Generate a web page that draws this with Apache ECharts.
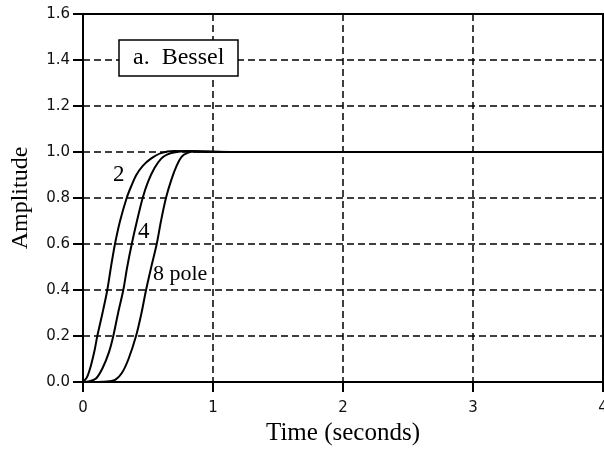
<!DOCTYPE html>
<html><head><meta charset="utf-8">
<script src="https://cdn.jsdelivr.net/npm/echarts@6/dist/echarts.min.js"></script>
<style>html,body{margin:0;padding:0;background:#fff}#c{width:604px;height:449px}</style>
</head><body><div id="c"></div>
<script>
// [time (s), amplitude]
var pole2 = [[0,0],[0.03,0.02],[0.06,0.07],[0.09,0.14],[0.11,0.2],[0.15,0.3],[0.187,0.4],[0.215,0.5],[0.246,0.6],[0.285,0.7],[0.336,0.8],[0.37,0.85],[0.41,0.9],[0.46,0.94],[0.52,0.97],[0.6,0.995],[0.7,1.004],[0.8,1.003],[1.0,1.0],[4,1]];
var pole4 = [[0,0],[0.05,0.003],[0.1,0.015],[0.15,0.06],[0.2,0.13],[0.233,0.2],[0.27,0.3],[0.31,0.4],[0.34,0.5],[0.375,0.6],[0.415,0.7],[0.459,0.8],[0.5,0.87],[0.55,0.93],[0.6,0.97],[0.65,0.99],[0.72,1.0],[0.8,1.004],[0.9,1.002],[1.2,1],[4,1]];
var pole8 = [[0,0],[0.1,0],[0.15,0.001],[0.2,0.003],[0.25,0.01],[0.3,0.04],[0.35,0.1],[0.408,0.2],[0.45,0.3],[0.485,0.4],[0.525,0.5],[0.567,0.6],[0.6,0.7],[0.638,0.8],[0.68,0.88],[0.72,0.94],[0.76,0.98],[0.8,0.995],[0.85,1.003],[0.95,1.002],[1.2,1],[4,1]];
var xTicks = [0,1,2,3,4];
var yTicks = ['0.0','0.2','0.4','0.6','0.8','1.0','1.2','1.4','1.6'];

var serif = 'Liberation Serif';
var sans = 'DejaVu Sans';
var chart = echarts.init(document.getElementById('c'));
function ser(d){return {type:'line',data:d,showSymbol:false,smooth:0.3,lineStyle:{color:'#000',width:2},z:5};}
chart.setOption({
  animation:false,
  title:{text:'a.  Bessel',left:119,top:40,padding:[6,14,6,14],borderColor:'#000',borderWidth:1.5,backgroundColor:'#fff',
    textStyle:{fontFamily:serif,fontSize:24,fontWeight:'normal',color:'#000'},z:10},
  grid:{left:83,right:1,top:14,bottom:67,show:true,borderColor:'#000',borderWidth:2,outerBoundsMode:'none',containLabel:false},
  xAxis:{type:'value',min:0,max:4,interval:1,
    name:'Time (seconds)',nameLocation:'middle',nameGap:38,
    nameTextStyle:{fontFamily:serif,fontSize:25,color:'#000'},
    axisLine:{show:true,lineStyle:{color:'#000',width:2}},
    axisTick:{show:true,inside:false,length:10,lineStyle:{color:'#000',width:2}},
    axisLabel:{fontFamily:sans,fontSize:15,color:'#111',margin:19,formatter:function(v){return xTicks.indexOf(v)>=0?String(v):'';}},
    splitLine:{show:true,lineStyle:{color:'#000',width:1.5,type:[7,4]}}},
  yAxis:{type:'value',min:0,max:1.6,interval:0.2,
    name:'Amplitude',nameLocation:'middle',nameGap:50,
    nameTextStyle:{fontFamily:serif,fontSize:24,color:'#000'},
    axisLine:{show:true,lineStyle:{color:'#000',width:2}},
    axisTick:{show:true,inside:false,length:10,lineStyle:{color:'#000',width:2}},
    axisLabel:{fontFamily:sans,fontSize:15,color:'#111',margin:13,formatter:function(v){return yTicks[Math.round(v/0.2)];}},
    splitLine:{show:true,lineStyle:{color:'#000',width:1.5,type:[7,4]}}},
  series:[ser(pole2),ser(pole4),ser(pole8)],
  graphic:[
    {type:'text',left:113,top:163,style:{text:'2',font:'23px "Liberation Serif"',fill:'#000'},z:20},
    {type:'text',left:138,top:220,style:{text:'4',font:'23px "Liberation Serif"',fill:'#000'},z:20},
    {type:'text',left:153,top:263,style:{text:'8 pole',font:'22px "Liberation Serif"',fill:'#000'},z:20}
  ]
});
</script></body></html>
